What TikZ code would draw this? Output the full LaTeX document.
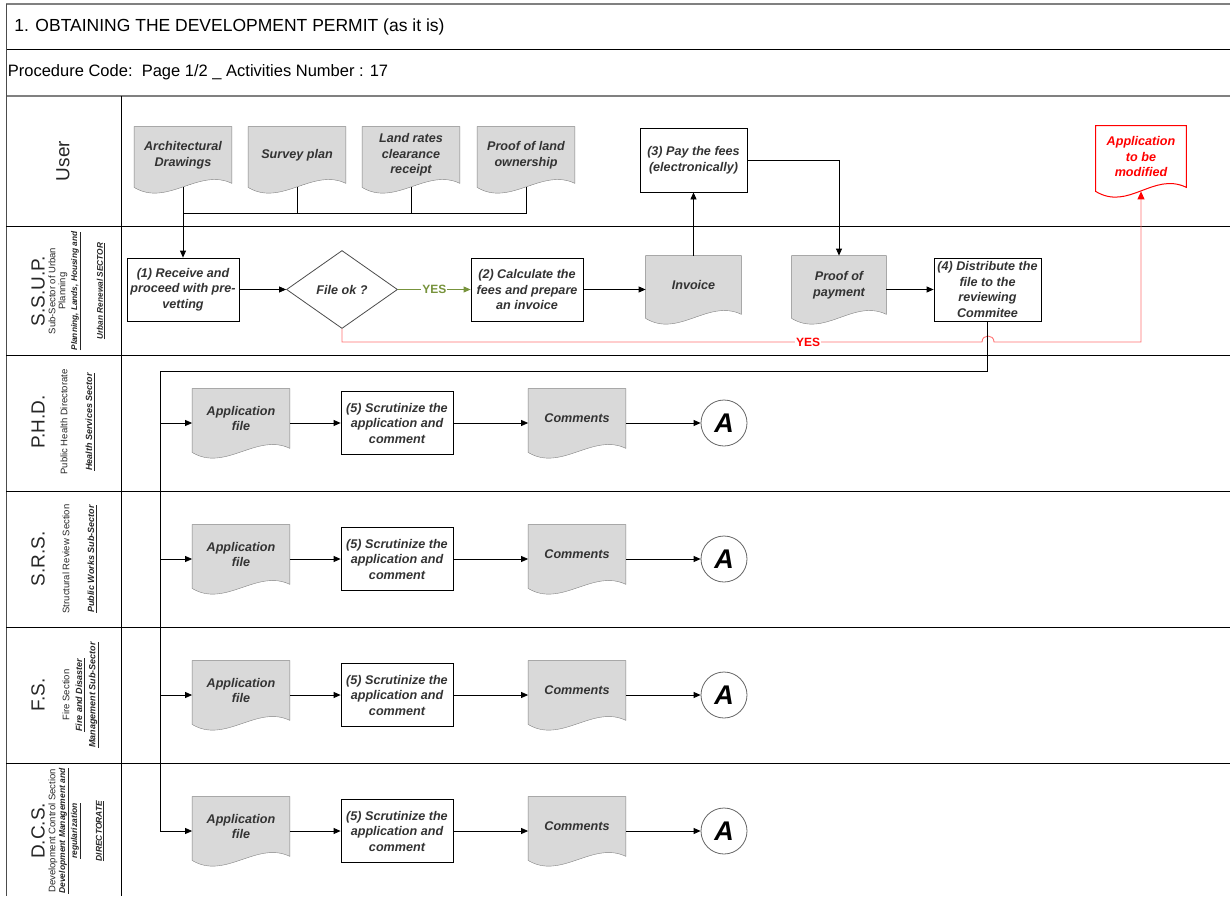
\documentclass[tikz,border=0pt]{standalone}
\usepackage{fontspec}
\setmainfont{Liberation Sans}
\usetikzlibrary{shapes.geometric,arrows.meta,calc,backgrounds}

\definecolor{docgray}{HTML}{D9D9D9}
\definecolor{okgreen}{HTML}{77933C}
\definecolor{nored}{HTML}{FF0000}
\definecolor{nopink}{HTML}{FF7070}

\newcommand{\boxfont}{\bfseries\itshape\fontsize{12.6}{15.5}\selectfont}
% outline of a document shape, wavy bottom
\newcommand{\docshape}[2][docline]{%
  \draw[#1] (#2.north west) -- (#2.north east) -- (#2.south east)
    .. controls +(-33,-16) and +(33,20) .. ($(#2.south west)+(0,4)$) -- cycle;}

\begin{document}
\begin{tikzpicture}[x=1pt, y=-1pt, line width=0.8pt,
    task/.style={rectangle, draw=black, fill=white, inner sep=1pt, align=center,
      text=black!80, font=\boxfont, minimum width=112pt, minimum height=63pt},
    doc/.style={rectangle, inner sep=1pt, align=center, text=black!80,
      font=\boxfont, minimum width=97pt, minimum height=56pt},
    docline/.style={draw=black!50, fill=docgray},
    modline/.style={draw=nored, fill=white, line width=1pt},
    check/.style={diamond, draw=black!70, fill=white, font=\boxfont, text=black!80,
      minimum width=111pt, minimum height=78pt, inner sep=0pt},
    offpage/.style={circle, draw=black!60, fill=white, minimum size=46pt, inner sep=0pt,
      font=\bfseries\itshape\fontsize{27}{27}\selectfont},
    wire/.style={draw=black},
    flow/.style={draw=black, -{Triangle[length=7pt,width=6pt]}},
    okflow/.style={draw=okgreen, -{Triangle[length=7pt,width=6pt]}},
    noflow/.style={draw=nopink, line width=0.9pt, -{Triangle[length=8pt,width=7pt,color=nored]}},
    yeslab/.style={fill=white, inner sep=1pt, font=\bfseries\fontsize{12}{12}\selectfont},
    lanebig/.style={rotate=90, inner sep=0pt, text=black!85, font=\fontsize{19}{19}\selectfont},
    lanesmall/.style={rotate=90, inner sep=0pt, text=black!85, font=\fontsize{9.5}{9.5}\selectfont},
    lanebold/.style={rotate=90, inner sep=0pt, text=black!85, font=\bfseries\itshape\fontsize{9}{9}\selectfont}]
\useasboundingbox (0,0) rectangle (1230,896);

% frame and swimlanes
\draw[gray, line width=1.6pt] (6,4) -- (1230,4);
\draw (6,49) -- (1230,49);
\draw[gray, line width=1.4pt] (6,96) -- (1230,96);
\draw[black!70] (6,4) -- (6,896);
\draw (121,96) -- (121,896);
\foreach \y in {226,355,491,627,763}
  \draw (6,\y) -- (1230,\y);

\node[anchor=west, inner sep=0pt, font=\fontsize{17.5}{20}\selectfont] (title) at (14,26.5)
  {1. OBTAINING THE DEVELOPMENT PERMIT (as it is)};
\node[anchor=west, inner sep=0pt, font=\fontsize{16.5}{19}\selectfont] (code) at (7.5,72.5)
  {Procedure Code:\ \ Page 1/2 \_ Activities Number : 17};

% lane names
\node[lanebig] (user) at (63,161) {User};
\node[lanebig] (ssup) at (38,291) {S.S.U.P.};
\node[lanesmall] (ssup-a) at (52,291) {Sub-Sector of Urban};
\node[lanesmall] (ssup-b) at (63,291) {Planning};
\node[lanebold, font=\bfseries\itshape\fontsize{8.3}{8.3}\selectfont] (ssup-c) at (76,291) {\underline{Planning, Lands, Housing and}};
\node[lanebold, font=\bfseries\itshape\fontsize{8.3}{8.3}\selectfont] (ssup-d) at (101,291) {\underline{Urban Renewal SECTOR}};
\node[lanebig] (phd) at (38,422) {P.H.D.};
\node[lanesmall] (phd-a) at (64,422) {Public Health Directorate};
\node[lanebold] (phd-b) at (90,422) {\underline{Health Services Sector}};
\node[lanebig] (srs) at (38,559) {S.R.S.};
\node[lanesmall] (srs-a) at (66,559) {Structural Review Section};
\node[lanebold] (srs-b) at (92,559) {\underline{Public Works Sub-Sector}};
\node[lanebig] (fs) at (38,695) {F.S.};
\node[lanesmall] (fs-a) at (66,695) {Fire Section};
\node[lanebold] (fs-b) at (80,695) {\underline{Fire and Disaster}};
\node[lanebold] (fs-c) at (94,695) {\underline{Management Sub-Sector}};
\node[lanebig] (dcs) at (38,831) {D.C.S.};
\node[lanesmall] (dcs-a) at (53,831) {Development Control Section};
\node[lanebold, font=\bfseries\itshape\fontsize{8.5}{8.5}\selectfont] (dcs-b) at (64,831) {\underline{Development Management and}};
\node[lanebold, font=\bfseries\itshape\fontsize{8.5}{8.5}\selectfont] (dcs-c) at (76,831) {\underline{regularization}};
\node[lanebold, font=\bfseries\itshape\fontsize{8.5}{8.5}\selectfont] (dcs-d) at (100,831) {\underline{DIRECTORATE}};

% user
\node[doc] (arch) at (183,155) {Architectural\\Drawings};
\node[doc] (survey) at (297,155) {Survey plan};
\node[doc] (rates) at (411,155) {Land rates\\clearance\\receipt};
\node[doc] (owner) at (526,155) {Proof of land\\ownership};
\node[task, minimum width=107pt, minimum height=64pt] (pay) at (693.5,160) {(3) Pay the fees\\(electronically)};
\node[doc, minimum width=90pt, minimum height=61pt, text=nored] (mod) at (1141,156.5) {Application\\to be\\modified};

% s.s.u.p.
\node[task] (recv) at (183,289.5) {(1) Receive and\\proceed with pre-\\vetting};
\node[check] (fileok) at (342,289.5) {File ok ?};
\node[task] (fees) at (527,289.5) {(2) Calculate the\\fees and prepare\\an invoice};
\node[doc, minimum width=95pt, minimum height=58pt] (invoice) at (693.5,285) {Invoice};
\node[doc, minimum width=94pt, minimum height=58pt] (paid) at (839,285) {Proof of\\payment};
\node[task, minimum width=107pt] (dist) at (987.5,289.5) {(4) Distribute the\\file to the\\reviewing\\Commitee};

\coordinate (merge) at (183,213);
\coordinate (bustop) at (160,371);
\coordinate (jumpL) at (982,342);
\coordinate (jumpR) at (994,342);
\coordinate (redturn) at (1141,342);

\draw[wire] ([yshift=-4pt]survey.south) |- (merge);
\draw[wire] ([yshift=-4pt]rates.south) |- (merge);
\draw[wire] ([yshift=-4pt]owner.south) |- (merge);
\draw[flow] ([yshift=-4pt]arch.south) -- (recv);
\draw[flow] (recv) -- (fileok);
\draw[okflow] (fileok) -- node[yeslab, text=okgreen] (okyes) {YES} (fees);
\draw[flow] (fees) -- (fees -| invoice.west);
\draw[flow] (invoice.north) -- (pay);
\draw[flow] (pay) -| (paid.north);
\draw[flow] (paid.east |- dist) -- (dist);
\draw[noflow] (fileok.south) |- (jumpL) .. controls +(0,-8) and +(0,-8) .. (jumpR)
  -- (redturn) -- ([yshift=-4pt]mod.south);
\node[yeslab, text=nored] (noyes) at (808,342) {YES};

% reviewing committee
\foreach \i/\y in {1/423,2/559,3/695,4/831} {
  \coordinate (bus\i) at (160,\y);
  \node[doc, minimum height=59pt] (app\i) at (241,\y-4.5) {Application\\file};
  \node[task, minimum height=63pt] (scr\i) at (397,\y) {(5) Scrutinize the\\application and\\comment};
  \node[doc, minimum height=59pt] (com\i) at (577,\y-4.5) {Comments};
  \node[offpage] (a\i) at (724,\y) {A};
  \draw[flow] (bus\i) -- (bus\i -| app\i.west);
  \draw[flow] (bus\i -| app\i.east) -- (scr\i);
  \draw[flow] (scr\i) -- (bus\i -| com\i.west);
  \draw[flow] (bus\i -| com\i.east) -- (a\i);
}
\draw[wire] (dist) |- (bustop) -- (bus4);

\begin{scope}[on background layer]
  \foreach \d in {arch,survey,rates,owner,invoice,paid,app1,app2,app3,app4,com1,com2,com3,com4}
    {\docshape{\d}}
  \docshape[modline]{mod}
\end{scope}
\end{tikzpicture}
\end{document}
